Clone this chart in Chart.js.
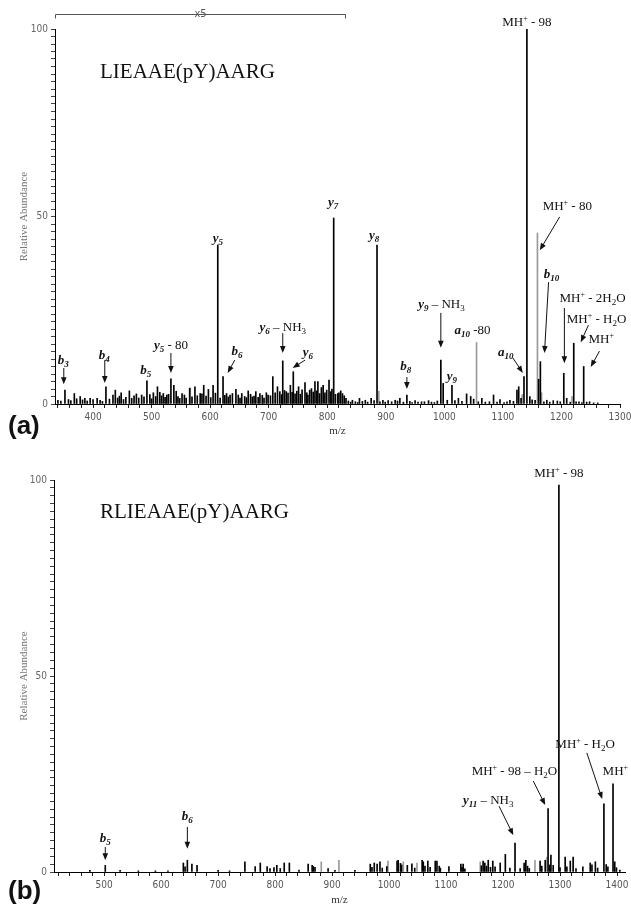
<!DOCTYPE html>
<html>
<head>
<meta charset="utf-8">
<script src="https://cdn.jsdelivr.net/npm/chart.js@4.4.1/dist/chart.umd.min.js"></script>
<style>
body { margin: 0; background: #fff; }
#page { position: relative; width: 631px; height: 911px; overflow: hidden; background: #fff; }
canvas { position: absolute; left: 0; }
.panel { position: absolute; left: 8px; font: bold 26px/1 'Liberation Sans', Arial, sans-serif; color: #111; }
.pep { position: absolute; left: 100px; font: 21px/1 'Liberation Serif', 'Times New Roman', serif; color: #111; }
</style>
</head>
<body>
<div id="page">
  <canvas id="chartA" width="631" height="450" style="top:0"></canvas>
  <canvas id="chartB" width="631" height="461" style="top:450px"></canvas>
  <div class="pep" style="top:61px">LIEAAE(pY)AARG</div>
  <div class="pep" style="top:501px">RLIEAAE(pY)AARG</div>
  <div class="panel" style="top:412px">(a)</div>
  <div class="panel" style="top:877px">(b)</div>
</div>
<script>
// ---- spectrum (a): LIEAAE(pY)AARG ----
const peakMzA = [
  352, 368, 378, 386, 395, 407, 422, 434, 438, 448,
  462, 474, 483, 492, 503, 510, 520, 526, 533, 538,
  552, 565, 574, 583, 589, 597, 605, 613, 622, 628,
  634, 644, 654, 665, 678, 685, 696, 707, 715, 724,
  730, 737, 742, 751, 762, 770, 779, 784, 793, 803,
  811, 818, 823, 832, 843, 855, 865, 875, 885, 895,
  904, 916, 924, 936, 950, 961, 973, 994, 998, 1013,
  1024, 1038, 1045, 1064, 1084, 1095, 1112, 1124, 1127, 1136,
  1141, 1146, 1155, 1161, 1164, 1175, 1186, 1204, 1209, 1221,
  1230, 1238, 1248
];
const peakIntA = [
  3.7, 2.8, 2.0, 1.5, 1.5, 1.5, 4.6, 2.4, 3.7, 3.0,
  3.5, 2.7, 2.4, 6.2, 3.0, 4.6, 2.8, 2.4, 6.7, 5.0,
  2.8, 4.2, 4.6, 2.8, 5.0, 3.9, 5.0, 42.4, 7.3, 2.8,
  2.4, 3.9, 2.8, 3.5, 3.3, 2.8, 3.0, 7.3, 4.6, 11.5,
  3.3, 5.0, 8.6, 4.6, 5.7, 3.7, 6.0, 6.0, 5.0, 6.4,
  49.6, 2.8, 3.5, 1.5, 1.0, 1.5, 1.0, 1.5, 42.4, 1.0,
  0.9, 1.0, 1.5, 2.4, 0.9, 0.6, 0.9, 11.7, 5.5, 5.0,
  1.5, 2.7, 2.0, 1.5, 2.4, 1.2, 1.0, 3.7, 4.6, 7.3,
  100, 2.0, 1.0, 6.6, 11.3, 1.0, 0.9, 8.2, 1.5, 16.2,
  0.6, 10.0, 0.6
];
const noiseMzA = [
  340, 345, 358, 362, 372, 382, 390, 400, 412, 416,
  428, 442, 445, 452, 456, 466, 470, 478, 487, 497,
  500, 507, 514, 517, 523, 529, 542, 545, 548, 556,
  559, 569, 578, 586, 593, 601, 609, 617, 625, 631,
  638, 648, 651, 659, 662, 669, 672, 675, 682, 689,
  692, 699, 703, 711, 719, 722, 727, 733, 740, 745,
  748, 754, 757, 765, 767, 773, 776, 782, 787, 790,
  796, 799, 806, 808, 814, 820, 826, 829, 836, 840,
  848, 852, 860, 869, 880, 890, 899, 910, 920, 930,
  941, 945, 955, 966, 978, 983, 988, 1005, 1018, 1030,
  1050, 1058, 1070, 1077, 1090, 1102, 1107, 1118, 1131, 1150,
  1170, 1180, 1193, 1198, 1215, 1225, 1235, 1243, 1255, 1262
];
const noiseIntA = [
  1.0, 0.8, 1.2, 0.9, 1.4, 1.1, 0.8, 1.2, 1.0, 0.7,
  1.3, 1.6, 2.1, 1.2, 1.8, 1.5, 2.2, 1.6, 1.9, 2.5,
  1.4, 2.0, 3.1, 2.2, 1.8, 2.6, 3.4, 2.0, 1.5, 2.4,
  1.6, 1.9, 2.2, 2.7, 2.1, 1.7, 2.9, 1.6, 2.3, 1.9,
  2.8, 2.4, 1.6, 2.0, 1.7, 2.6, 1.9, 2.1, 1.8, 2.3,
  1.6, 2.4, 2.2, 3.0, 3.3, 2.5, 3.6, 2.9, 3.1, 2.7,
  3.4, 2.6, 3.8, 3.0, 2.4, 4.1, 3.2, 3.5, 2.8, 4.4,
  3.0, 3.7, 3.3, 4.0, 2.6, 3.0, 2.8, 2.2, 0.8, 0.5,
  0.6, 0.4, 0.7, 0.5, 0.9, 0.6, 0.5, 0.6, 0.8, 0.5,
  0.7, 0.4, 0.5, 0.6, 0.5, 0.4, 0.8, 1.0, 0.9, 0.7,
  1.3, 0.6, 0.5, 0.6, 0.5, 0.4, 0.6, 0.7, 1.5, 1.1,
  0.6, 0.5, 0.8, 0.6, 0.5, 0.6, 0.4, 0.5, 0.3, 0.3
];
const greyMzA = [566, 888, 1055, 1133, 1159, 1166, 1218];
const greyIntA = [4.3, 3.4, 16.4, 2.5, 45.6, 3.0, 2.0];

// ---- spectrum (b): RLIEAAE(pY)AARG ----
const peakMzB = [
  475, 502, 528, 639, 642, 646, 654, 663, 747, 765,
  774, 786, 791, 798, 803, 809, 816, 825, 858, 865,
  867, 893, 967, 974, 979, 984, 1014, 1016, 1032, 1040,
  1058, 1060, 1068, 1081, 1084, 1105, 1126, 1130, 1165, 1168,
  1174, 1182, 1195, 1204, 1221, 1230, 1237, 1240, 1265, 1274,
  1279, 1284, 1288, 1298, 1309, 1318, 1323, 1340, 1353, 1362,
  1377, 1384, 1393, 1396
];
const peakIntB = [
  0.4, 1.7, 0.4, 2.3, 1.3, 3.0, 2.0, 1.7, 2.6, 1.4,
  2.3, 1.4, 0.9, 1.1, 1.7, 0.9, 2.3, 2.3, 2.0, 1.7,
  1.4, 0.9, 2.0, 2.3, 2.0, 2.6, 2.8, 3.0, 1.7, 2.1,
  3.0, 2.6, 2.8, 2.8, 2.8, 1.4, 2.0, 2.0, 2.8, 2.3,
  3.0, 2.8, 2.3, 4.5, 7.4, 0.9, 2.3, 3.0, 2.8, 3.0,
  16.2, 4.3, 1.7, 98.7, 3.8, 2.8, 3.8, 1.3, 2.3, 2.6,
  17.4, 1.3, 22.5, 2.6
];
const noiseMzB = [
  560, 590, 612, 700, 720, 842, 870, 905, 940, 970,
  988, 996, 1020, 1022, 1045, 1063, 1072, 1088, 1090, 1128,
  1133, 1162, 1171, 1178, 1186, 1212, 1243, 1246, 1268, 1282,
  1300, 1312, 1328, 1356, 1366, 1381, 1399, 1405
];
const noiseIntB = [
  0.3, 0.3, 0.3, 0.4, 0.3, 0.5, 1.2, 0.4, 0.4, 1.2,
  1.0, 1.4, 2.2, 1.8, 1.0, 1.5, 1.2, 1.5, 1.0, 1.2,
  0.8, 1.6, 1.5, 1.2, 1.3, 1.0, 1.5, 0.9, 1.5, 1.8,
  1.1, 1.3, 0.9, 1.8, 1.0, 1.9, 1.1, 0.5
];
const greyMzB = [881, 912, 998, 1025, 1049, 1160, 1256, 1277];
const greyIntB = [2.6, 3.0, 2.8, 2.6, 2.3, 2.6, 3.0, 3.8];

const yTickLabels = [0, 50, 100];
const xLabelStep = 100;

// peak labels: text, position (m/z, %), optional arrow [m/z, %, m/z, %]
const labelsA = [
  { t: 'MH^{+} - 98', x: 1141, y: 102.1 },
  { t: 'MH^{+} - 80', x: 1210, y: 53, a: [1197, 49.9, 1163, 41] },
  { t: '[y]_{7}', x: 810, y: 53.9 },
  { t: '[y]_{8}', x: 880, y: 45.3 },
  { t: '[y]_{5}', x: 613, y: 44.5 },
  { t: '[y]_{9} – NH_{3}', x: 995, y: 26.7, a: [994, 24.3, 994, 15] },
  { t: '[a]_{10} -80', x: 1048, y: 20 },
  { t: '[a]_{10}', x: 1105, y: 14.1, a: [1117, 12.3, 1134, 8.3] },
  { t: '[b]_{10}', x: 1183, y: 34.9, a: [1178, 32.5, 1171, 13.6] },
  { t: 'MH^{+} - 2H_{2}O', x: 1253, y: 28.3, a: [1205, 25.6, 1205, 10.9] },
  { t: 'MH^{+} - H_{2}O', x: 1260, y: 22.9, a: [1246, 21, 1233, 16.5] },
  { t: 'MH^{+}', x: 1268, y: 17.6, a: [1265, 14.1, 1250, 9.9] },
  { t: '[b]_{8}', x: 934, y: 10.4, a: [936, 7.2, 936, 4] },
  { t: '[y]_{9}', x: 1013, y: 7.5 },
  { t: '[y]_{6} – NH_{3}', x: 724, y: 20.8, a: [724, 18.9, 724, 13.6] },
  { t: '[y]_{6}', x: 767, y: 14.1, a: [762, 11.7, 741, 9.6] },
  { t: '[b]_{6}', x: 646, y: 14.4, a: [642, 11.7, 630, 8.3] },
  { t: '[y]_{5} - 80', x: 533, y: 16, a: [533, 13.6, 533, 8.3] },
  { t: '[b]_{5}', x: 490, y: 9.3 },
  { t: '[b]_{4}', x: 419, y: 13.3, a: [420, 11.7, 420, 5.6] },
  { t: '[b]_{3}', x: 349, y: 12, a: [350, 9.6, 350, 5.3] }
];
const labelsB = [
  { t: 'MH^{+} - 98', x: 1298, y: 101.8 },
  { t: 'MH^{+} - H_{2}O', x: 1344, y: 32.9, a: [1347, 30.4, 1374, 18.6] },
  { t: 'MH^{+}', x: 1397, y: 26 },
  { t: 'MH^{+} - 98 – H_{2}O', x: 1220, y: 26, a: [1253, 23.2, 1274, 17.1] },
  { t: '[y]_{11} – NH_{3}', x: 1174, y: 18.6, a: [1193, 16.8, 1218, 9.4] },
  { t: '[b]_{5}', x: 502, y: 8.9, a: [502, 6.4, 502, 3] },
  { t: '[b]_{6}', x: 646, y: 14.3, a: [646, 11.5, 646, 5.9] }
];
// m/z range shown magnified x5 in (a)
const zoomRangeA = [335, 830];

const SERIF = "'Liberation Serif', 'Times New Roman', serif";
const NARROW = "'Liberation Sans Narrow', 'DejaVu Sans Condensed', 'Liberation Sans', sans-serif";

function points(mz, ints) {
  return mz.map((m, i) => ({ x: m, y: ints[i] }));
}

// "[y]" = ion letter (bold italic), "_{..}" subscript, "^{..}" superscript
function parseRich(str) {
  const segs = [];
  let i = 0, lastIon = false;
  while (i < str.length) {
    const c = str[i];
    if (c === '[') {
      const j = str.indexOf(']', i);
      segs.push({ t: str.slice(i + 1, j), s: 'ion' });
      lastIon = true; i = j + 1; continue;
    }
    if ((c === '_' || c === '^') && str[i + 1] === '{') {
      const j = str.indexOf('}', i);
      segs.push({ t: str.slice(i + 2, j), s: c === '_' ? 'sub' : 'sup', ion: lastIon });
      i = j + 1; continue;
    }
    let j = i + 1;
    while (j < str.length && !'[_^'.includes(str[j])) j++;
    segs.push({ t: str.slice(i, j), s: 'n' });
    lastIon = false; i = j;
  }
  return segs;
}

function fontFor(seg) {
  const ion = seg.s === 'ion' || seg.ion;
  const size = seg.s === 'sub' ? 9 : seg.s === 'sup' ? 8 : 13;
  return (ion ? 'italic bold ' : '') + size + 'px ' + SERIF;
}

function drawRich(ctx, str, cx, cy) {
  const segs = parseRich(str);
  let w = 0;
  segs.forEach(s => { ctx.font = fontFor(s); s.w = ctx.measureText(s.t).width; w += s.w; });
  let x = cx - w / 2;
  const base = cy + 4.5;
  ctx.textAlign = 'left';
  ctx.textBaseline = 'alphabetic';
  segs.forEach(s => {
    ctx.font = fontFor(s);
    const dy = s.s === 'sub' ? 3 : s.s === 'sup' ? -5 : 0;
    ctx.fillText(s.t, x, base + dy);
    x += s.w;
  });
}

function arrow(ctx, x1, y1, x2, y2) {
  const ang = Math.atan2(y2 - y1, x2 - x1), len = 7, half = 2.8;
  const c = Math.cos(ang), s = Math.sin(ang);
  ctx.beginPath();
  ctx.moveTo(x1, y1);
  ctx.lineTo(x2 - c * len * 0.7, y2 - s * len * 0.7);
  ctx.stroke();
  ctx.beginPath();
  ctx.moveTo(x2, y2);
  ctx.lineTo(x2 - len * c + half * s, y2 - len * s - half * c);
  ctx.lineTo(x2 - len * c - half * s, y2 - len * s + half * c);
  ctx.closePath();
  ctx.fill();
}

function labelPlugin(items, bracket) {
  return {
    id: 'peakLabels',
    afterDatasetsDraw(chart) {
      const ctx = chart.ctx, xs = chart.scales.x, ys = chart.scales.y;
      ctx.save();
      ctx.strokeStyle = '#111';
      ctx.fillStyle = '#111';
      ctx.lineWidth = 1;
      items.forEach(it => {
        if (it.a) {
          arrow(ctx, xs.getPixelForValue(it.a[0]), ys.getPixelForValue(it.a[1]),
                     xs.getPixelForValue(it.a[2]), ys.getPixelForValue(it.a[3]));
        }
        drawRich(ctx, it.t, xs.getPixelForValue(it.x), ys.getPixelForValue(it.y));
      });
      if (bracket) {
        const x1 = Math.round(xs.getPixelForValue(bracket[0])) + 0.5;
        const x2 = Math.round(xs.getPixelForValue(bracket[1])) + 0.5;
        const y = chart.chartArea.top - 14.5;
        ctx.strokeStyle = '#555';
        ctx.beginPath();
        ctx.moveTo(x1, y + 4); ctx.lineTo(x1, y); ctx.lineTo(x2, y); ctx.lineTo(x2, y + 4);
        ctx.stroke();
        ctx.fillStyle = '#555';
        ctx.font = '11px ' + NARROW;
        ctx.textAlign = 'center';
        ctx.textBaseline = 'middle';
        ctx.fillText('x5', (x1 + x2) / 2, y);
      }
      ctx.restore();
    }
  };
}

function spectrum(id, cfg) {
  return new Chart(document.getElementById(id), {
    type: 'bar',
    data: {
      datasets: [
        { data: points(cfg.mz, cfg.ints), backgroundColor: '#000', barThickness: 1, grouped: false },
        { data: points(cfg.greyMz, cfg.greyInts), backgroundColor: '#9a9a9a', barThickness: 1, grouped: false }
      ]
    },
    options: {
      responsive: false,
      animation: false,
      events: [],
      layout: { padding: cfg.padding },
      plugins: { legend: { display: false }, tooltip: { enabled: false } },
      scales: {
        x: {
          type: 'linear', min: cfg.min, max: cfg.max, offset: false,
          grid: { offset: false, drawOnChartArea: false, tickLength: 4, color: '#222' },
          border: { color: '#000', width: 1 },
          ticks: {
            stepSize: 20, includeBounds: false, autoSkip: false, maxRotation: 0, padding: 3,
            color: '#555', font: { family: NARROW, size: 10 },
            callback: v => (v % xLabelStep === 0 ? String(v) : '')
          },
          title: {
            display: true, text: 'm/z', color: '#333',
            font: { family: SERIF, size: 11 }, padding: { top: 0, bottom: cfg.xTitlePad }
          },
          afterFit(s) { s.height = cfg.xHeight; s.paddingLeft = 0; s.paddingRight = 0; }
        },
        y: {
          min: 0, max: 100,
          grid: { drawOnChartArea: false, tickLength: 4, color: '#444' },
          border: { color: '#000', width: 1 },
          ticks: {
            stepSize: 2, autoSkip: false, padding: 3,
            color: '#666', font: { family: NARROW, size: 10 },
            callback: v => (yTickLabels.includes(v) ? String(v) : '')
          },
          title: {
            display: true, text: 'Relative Abundance', color: '#777',
            font: { family: SERIF, size: 11 }, padding: { top: 17.4, bottom: 0 }
          },
          afterFit(s) { s.width = cfg.yWidth; s.paddingTop = 0; s.paddingBottom = 0; }
        }
      }
    },
    plugins: [labelPlugin(cfg.labels, cfg.bracket)]
  });
}

spectrum('chartA', {
  mz: peakMzA.concat(noiseMzA), ints: peakIntA.concat(noiseIntA),
  greyMz: greyMzA, greyInts: greyIntA,
  min: 335, max: 1300,
  padding: { top: 29, right: 11, bottom: 6, left: 0 },
  xHeight: 40, xTitlePad: 6.4, yWidth: 55,
  labels: labelsA, bracket: zoomRangeA
});

spectrum('chartB', {
  mz: peakMzB.concat(noiseMzB), ints: peakIntB.concat(noiseIntB),
  greyMz: greyMzB, greyInts: greyIntB,
  min: 412, max: 1414,
  padding: { top: 30, right: 6, bottom: 0, left: 0 },
  xHeight: 39, xTitlePad: 4.4, yWidth: 54,
  labels: labelsB, bracket: null
});
</script>
</body>
</html>
